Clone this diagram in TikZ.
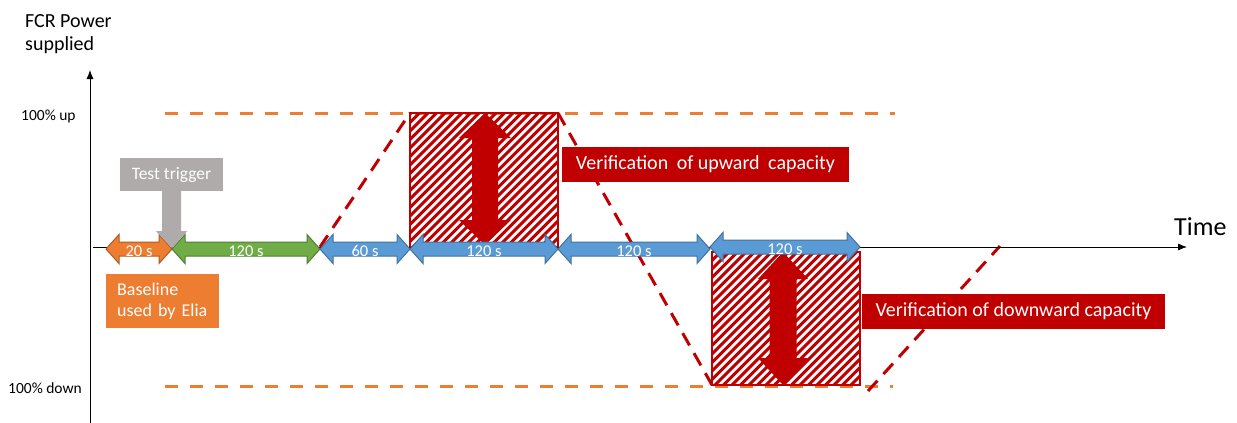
\documentclass[tikz,border=0pt]{standalone}
\usepackage{fontspec}
\setmainfont{Carlito}
\usetikzlibrary{arrows.meta}
\definecolor{orng}{HTML}{ED7D31}
\definecolor{orngd}{HTML}{AE5A21}
\definecolor{grn}{HTML}{70AD47}
\definecolor{grnd}{HTML}{507E32}
\definecolor{blu}{HTML}{5B9BD5}
\definecolor{blud}{HTML}{41719C}
\definecolor{rd}{HTML}{C00000}
\definecolor{gry}{HTML}{AFABAB}

\tikzset{
  arrowlabel/.style={anchor=base, text=white, inner sep=0pt, font=\fontsize{16.5}{19}\selectfont},
  redlabel/.style={fill=rd, text=white, inner sep=0pt, font=\fontsize{20}{24}\selectfont, minimum height=35pt},
  limitline/.style={orng, line width=3pt, dash pattern=on 13pt off 12pt},
  rampline/.style={rd, line width=3pt, dash pattern=on 14pt off 9pt},
  axisline/.style={black, line width=0.8pt, -{Latex[length=9pt,width=7pt]}},
  ticklabel/.style={anchor=base west, inner sep=0pt, font=\fontsize{15.5}{18}\selectfont},
}

\newcommand\hdarrow[7]{%
  \draw[fill=#4, draw=#5, line width=1pt, line join=miter]
    (#1,#3) -- (#1+13,#3-14.5) -- (#1+13,#3-7) -- (#2-13,#3-7) -- (#2-13,#3-14.5)
    -- (#2,#3) -- (#2-13,#3+14.5) -- (#2-13,#3+7) -- (#1+13,#3+7) -- (#1+13,#3+14.5) -- cycle;
  \node[arrowlabel] (#6) at ({(#1+#2)/2},#3+7) {#7};
}
\newcommand\vdarrow[6]{% cx, ytop, ybot, shafthalf, headhalf, headlen
  \fill[rd]
    (#1,#2) -- (#1+#5,#2+#6) -- (#1+#4,#2+#6) -- (#1+#4,#3-#6) -- (#1+#5,#3-#6)
    -- (#1,#3) -- (#1-#5,#3-#6) -- (#1-#4,#3-#6) -- (#1-#4,#2+#6) -- (#1-#5,#2+#6) -- cycle;
}
\newcommand\hatchbox[4]{%
  \begin{scope}
    \clip (#1,#2) rectangle (#3,#4);
    \foreach \k in {-150,-141.5,...,160} \draw[rd, line width=3pt] (#1+\k,#4) -- ++(170,-170);
  \end{scope}
  \draw[rd, line width=2pt] (#1,#2) rectangle (#3,#4);
}

\begin{document}
\begin{tikzpicture}[x=1pt,y=-1pt]
\useasboundingbox (0,0) rectangle (1237,423);

% limit lines
\draw[limitline] (165,113) -- (895,113);
\draw[limitline] (165,386) -- (893,386);

% ramps
\coordinate (r1a) at (320,247); \coordinate (r1b) at (410,113);
\coordinate (r2a) at (558,113); \coordinate (r2b) at (712,385);
\coordinate (r3a) at (868,391); \coordinate (r3b) at (1000,246);
\draw[rampline] (r1a) -- (r1b);
\draw[rampline] (r2a) -- (r2b);
\draw[rampline] (r3a) -- (r3b);

% hatched verification boxes
\hatchbox{410}{113}{558}{247}
\hatchbox{712}{252}{860}{385}
\vdarrow{485}{113}{245}{13}{26}{25}
\vdarrow{783}{252}{385}{13.5}{25}{27}

% axes
\coordinate (xo) at (93,247); \coordinate (xe) at (1187,247);
\coordinate (yo) at (90,423); \coordinate (ye) at (90,70);
\draw[axisline] (xo) -- (xe);
\draw[axisline] (yo) -- (ye);

% time arrows
\hdarrow{106}{172}{249}{orng}{orngd}{a20}{20 s}
\hdarrow{172}{320}{249}{grn}{grnd}{a120g}{120 s}
\hdarrow{320}{410}{249}{blu}{blud}{a60}{60 s}
\hdarrow{410}{558}{249}{blu}{blud}{a120a}{120 s}
\hdarrow{558}{710}{249}{blu}{blud}{a120b}{120 s}
\hdarrow{710}{860}{247}{blu}{blud}{a120c}{120 s}

% test trigger
\node[fill=gry, text=white, inner sep=0pt, minimum width=103pt, minimum height=33pt,
      font=\fontsize{17.5}{20}\selectfont] (trig) at (171.5,174.5) {Test trigger};
\fill[gry] ([xshift=-9.5pt]trig.south) -- ([xshift=9.5pt]trig.south) -- ++(0,40) -- ++(6,0)
  -- ++(-15,17) -- ++(-16,-17) -- ++(6,0) -- cycle;

% baseline box
\node[fill=orng, text=white, anchor=north west, inner xsep=11pt, inner ysep=0pt,
      minimum width=113pt, minimum height=54pt, text width=91pt, align=left,
      font=\fontsize{18}{21}\selectfont] (base) at (106,274) {Baseline\\used by Elia};

% verification labels
\node[redlabel, minimum width=287pt] (uplab) at (705.5,164.5)
  {Verification\hspace{4pt} of upward\hspace{4pt} capacity};
\node[redlabel, minimum width=303pt] (dnlab) at (1013.5,311.5)
  {Verification of downward capacity};

% axis labels
\node[anchor=north west, inner sep=0pt, align=left, font=\fontsize{20}{23}\selectfont]
  (ylab) at (25,14) {FCR Power\\supplied};
\node[anchor=base west, inner sep=0pt, font=\fontsize{26}{30}\selectfont] (tlab) at (1174,235) {Time};
\node[ticklabel] (uptick) at (21,120) {100\% up};
\node[ticklabel] (dntick) at (8,393) {100\% down};
\end{tikzpicture}
\end{document}
